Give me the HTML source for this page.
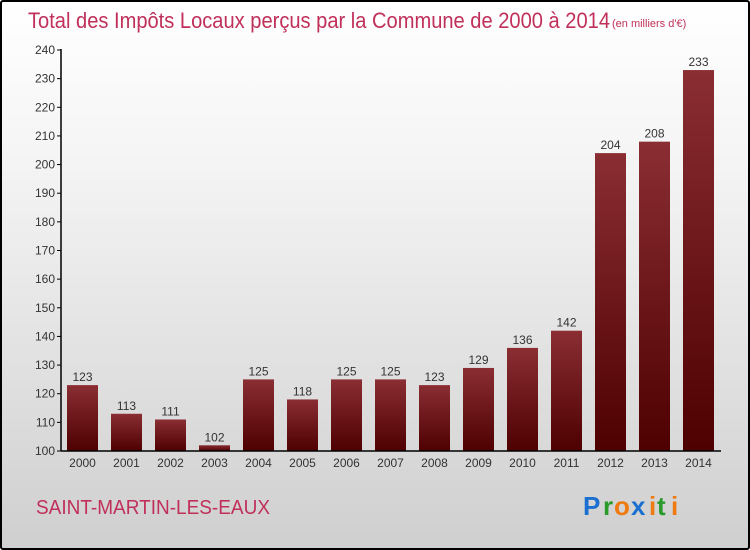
<!DOCTYPE html>
<html><head><meta charset="utf-8"><style>
html,body{margin:0;padding:0}
body{width:750px;height:550px;overflow:hidden;font-family:"Liberation Sans",sans-serif}
#frame{position:absolute;left:0;top:0;width:746px;height:546px;border:2px solid #000;background:linear-gradient(#fff 0%,#f4f4f4 30%,#cfcfcf 100%);border-radius:3px}
</style></head><body>
<div id="frame"></div>
<svg id="chart" width="750" height="550" style="position:absolute;left:0;top:0">
<defs><linearGradient id="bg" x1="0" y1="0" x2="0" y2="1"><stop offset="0" stop-color="#8a2e33"/><stop offset="1" stop-color="#4e0000"/></linearGradient></defs>
<text x="28" y="28" font-size="22" fill="#c0305a" textLength="582" lengthAdjust="spacingAndGlyphs">Total des Impôts Locaux perçus par la Commune de 2000 à 2014</text>
<text x="612" y="27" font-size="11" fill="#c0305a">(en milliers d'€)</text>
<text x="36" y="514" font-size="20" fill="#c0305a" textLength="234" lengthAdjust="spacingAndGlyphs">SAINT-MARTIN-LES-EAUX</text>
<g font-size="26" font-weight="bold">
<text x="583" y="515" fill="#1a6fd0">P</text><text x="603" y="515" fill="#2a9a2a">r</text><text x="614" y="515" fill="#ee7a10">o</text><text x="631" y="515" fill="#1a6fd0">x</text><text x="649" y="515" fill="#ee7a10">i</text><text x="657" y="515" fill="#2a9a2a">t</text><text x="671" y="515" fill="#ee7a10">i</text>
</g>
<g id="g"></g>
</svg>
<script>
const years=["2000","2001","2002","2003","2004","2005","2006","2007","2008","2009","2010","2011","2012","2013","2014"];
const values=[123,113,111,102,125,118,125,125,123,129,136,142,204,208,233];
const yTicks=[100,110,120,130,140,150,160,170,180,190,200,210,220,230,240];
const NS="http://www.w3.org/2000/svg";
const g=document.getElementById('g');
function y(v){return 451-(v-100)*(401/140);}
function x(i){return 67+i*44;}
function mk(t,a,p){const e=document.createElementNS(NS,t);for(const k in a)e.setAttribute(k,a[k]);(p||g).appendChild(e);return e;}
yTicks.forEach(v=>{
 const t=mk('line',{x1:57,x2:61,y1:y(v),y2:y(v),stroke:'#000'});
 
 
 const l=mk('text',{x:55,y:y(v)+4,'font-size':12,fill:'#333','text-anchor':'end'});
 l.textContent=v;
 
 
});
values.forEach((v,i)=>{
 const b=mk('rect',{x:x(i),y:y(v),width:31,height:451-y(v),fill:'url(#bg)'});
 
 
 const l=mk('text',{x:x(i)+15.5,y:y(v)-4,'font-size':12,fill:'#333','text-anchor':'middle'});
 l.textContent=v;
 
 
 const c=mk('text',{x:x(i)+15.5,y:467,'font-size':12,fill:'#333','text-anchor':'middle'});
 c.textContent=years[i];
 
 
});
const ya=mk('line',{x1:61,x2:61,y1:49,y2:451,stroke:'#000','stroke-width':1.5});


const xa=mk('line',{x1:61,x2:721,y1:451,y2:451,stroke:'#000','stroke-width':1.5});


</script>
</body></html>
